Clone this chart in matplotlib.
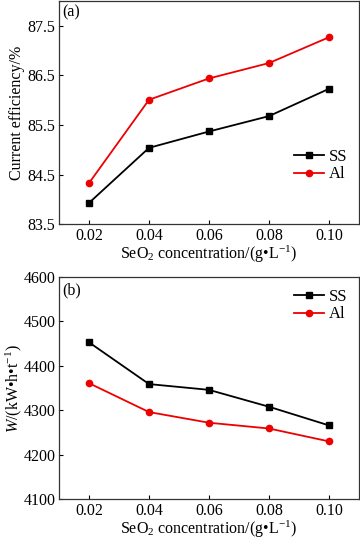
import matplotlib
matplotlib.use("Agg")
from matplotlib import pyplot as plt

plt.rcParams['font.family'] = ['Liberation Serif', 'DejaVu Serif']
plt.rcParams['mathtext.fontset'] = 'custom'
plt.rcParams['mathtext.rm'] = 'Liberation Serif'
plt.rcParams['mathtext.it'] = 'Liberation Serif:italic'
plt.rcParams['font.size'] = 11.5

conc = [0.02, 0.04, 0.06, 0.08, 0.10]
x_ticks = ["0.02", "0.04", "0.06", "0.08", "0.10"]

# (a) current efficiency, %
ce_ss = [83.93, 85.04, 85.37, 85.68, 86.23]
ce_al = [84.33, 86.01, 86.44, 86.75, 87.27]

# (b) energy consumption, kW*h/t
w_ss = [4453, 4359, 4346, 4308, 4266]
w_al = [4361, 4296, 4272, 4259, 4230]

xlabel = r'SeO$_2$ concentration/(g•L$^{-1}$)'

fig = plt.figure(figsize=(3.6, 5.39), dpi=100)
ax1 = fig.add_axes([0.164, 0.584, 0.833, 0.414])
ax2 = fig.add_axes([0.164, 0.074, 0.833, 0.412])

for ax in (ax1, ax2):
    ax.tick_params(direction='in', length=3, width=0.8, labelsize=11.5, pad=2.5)
    for s in ax.spines.values():
        s.set_linewidth(0.9)
        s.set_color('#333333')
    ax.set_xlim(0.01, 0.11)
    ax.set_xticks(conc)
    ax.set_xticklabels(x_ticks)
    ax.set_xlabel(xlabel, fontsize=11.5, labelpad=0)

ax1.plot(conc, ce_ss, color='black', marker='s', markersize=4, lw=1.3, label='SS')
ax1.plot(conc, ce_al, color='#ee0000', marker='o', markersize=4.5, lw=1.3, label='Al')
ax1.set_ylim(83.5, 88.0)
ax1.set_yticks([83.5, 84.5, 85.5, 86.5, 87.5])
ax1.set_ylabel('Current efficiency/%', fontsize=11.5, labelpad=2)
ax1.text(0.01, 0.985, '(a)', transform=ax1.transAxes, ha='left', va='top', fontsize=11.5)
ax1.legend(loc='lower right', bbox_to_anchor=(1.0, 0.135), frameon=False, fontsize=12,
           handlelength=1.8, handletextpad=0.3, labelspacing=0.1, borderaxespad=0.3)

ax2.plot(conc, w_ss, color='black', marker='s', markersize=4, lw=1.3, label='SS')
ax2.plot(conc, w_al, color='#ee0000', marker='o', markersize=4.5, lw=1.3, label='Al')
ax2.set_ylim(4100, 4600)
ax2.set_yticks([4100, 4200, 4300, 4400, 4500, 4600])
ax2.set_ylabel(r'$W$/(kW•h•t$^{-1}$)', fontsize=11.5, labelpad=0)
ax2.text(0.01, 0.975, '(b)', transform=ax2.transAxes, ha='left', va='top', fontsize=11.5)
ax2.legend(loc='upper right', frameon=False, fontsize=12,
           handlelength=1.8, handletextpad=0.3, labelspacing=0.1, borderaxespad=0.3)

fig.savefig('out.png', dpi=100)
